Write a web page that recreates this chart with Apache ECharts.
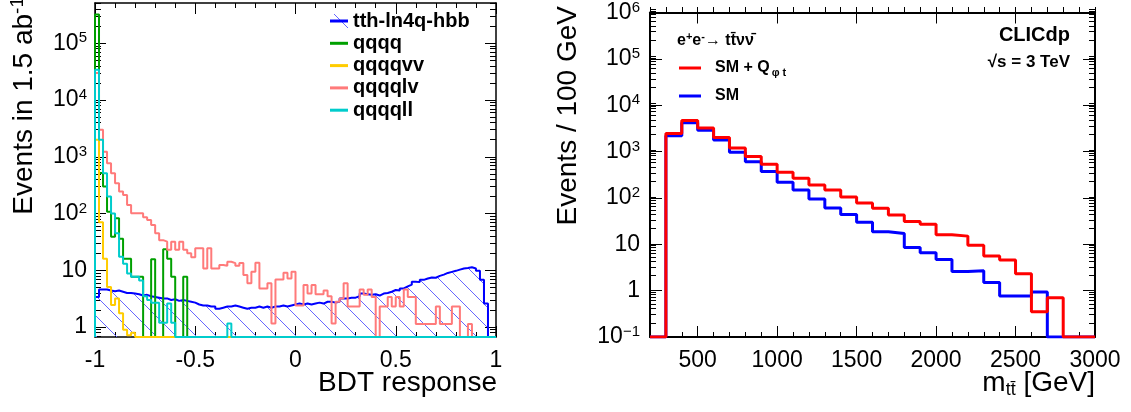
<!DOCTYPE html>
<html>
<head>
<meta charset="utf-8">
<title>BDT response / m_tt</title>
<style>
  html, body { margin: 0; padding: 0; background: #fff; }
  #main { width: 1131px; height: 412px; }
</style>
</head>
<body>
<div id="main"></div>
<script src="https://cdn.jsdelivr.net/npm/echarts@6/dist/echarts.min.js"></script>
<script>
// ---- left panel: BDT response, 100 bins of 0.02 from -1 to 1 ----
var bdtLow = -1, bdtBin = 0.02;
var tthLn4qHbb = [
  3.4, 4.6, 4.6, 4.4, 4.3, 4.4, 4.2, 4.0, 4.0, 3.9,
  3.8, 3.6, 3.7, 3.5, 3.4, 3.3, 3.2, 3.2, 3.0, 3.1,
  2.9, 3.0, 2.9, 2.8, 2.7, 2.5, 2.4, 2.4, 2.3, 2.3,
  2.1, 2.2, 2.3, 2.3, 2.4, 2.3, 2.2, 2.1, 2.2, 2.2,
  2.3, 2.2, 2.3, 2.2, 2.3, 2.3, 2.4, 2.3, 2.4, 2.5,
  2.6, 2.5, 2.6, 2.5, 2.6, 2.7, 2.6, 2.8, 2.8, 2.7,
  2.8, 3.2, 3.2, 3.3, 3.3, 3.5, 3.9, 3.8, 3.7, 3.8,
  3.6, 3.9, 4.0, 4.2, 4.5, 4.4, 4.8, 5.2, 5.6, 6.3,
  6.2, 6.8, 7.2, 7.5, 7.4, 8.0, 8.4, 9.0, 9.4, 9.8,
  10.3, 10.8, 11.0, 11.3, 10.8, 9.8, 6.8, 2.6, 0, 0
];
var qqqq = [
  320000, 515, 298, 108, 39, 83, 36, 16, 16, 7.7,
  7.7, 7.7, 0, 0, 15.6, 0, 0, 23.5, 16, 7.7,
  0, 0, 7.7, 0, 0, 0, 0, 0, 0, 0,
  0, 0, 0, 0, 0, 0, 0, 0, 0, 0,
  0, 0, 0, 0, 0, 0, 0, 0, 0, 0,
  0, 0, 0, 0, 0, 0, 0, 0, 0, 0,
  0, 0, 0, 0, 0, 0, 0, 0, 0, 0,
  0, 0, 0, 0, 0, 0, 0, 0, 0, 0,
  0, 0, 0, 0, 0, 0, 0, 0, 0, 0,
  0, 0, 0, 0, 0, 0, 0, 0, 0, 0
];
var qqqqvv = [
  2000, 70, 16, 5.1, 2.45, 3.2, 1.76, 0.9, 0.72, 0.8,
  0, 0, 0, 0, 0, 0, 0, 0, 0, 0,
  0, 0, 0, 0, 0, 0, 0, 0, 0, 0,
  0, 0, 0, 0, 0, 0, 0, 0, 0, 0,
  0, 0, 0, 0, 0, 0, 0, 0, 0, 0,
  0, 0, 0, 0, 0, 0, 0, 0, 0, 0,
  0, 0, 0, 0, 0, 0, 0, 0, 0, 0,
  0, 0, 0, 0, 0, 0, 0, 0, 0, 0,
  0, 0, 0, 0, 0, 0, 0, 0, 0, 0,
  0, 0, 0, 0, 0, 0, 0, 0, 0, 0
];
var qqqqlv = [
  30000, 3000, 1230, 770, 510, 340, 245, 213, 141, 101,
  101, 101, 86, 77, 63, 45, 34, 32, 23, 32,
  23, 32, 23, 20, 17, 24.5, 24.5, 10.8, 24.5, 10.8,
  10.8, 12.4, 12, 14.2, 13.4, 12.1, 13.4, 8.3, 5.9, 9.4,
  13.6, 4.8, 4.8, 5.9, 1.16, 6.9, 6.9, 9.1, 7.2, 9.4,
  2.4, 2.4, 5.5, 3.9, 5.5, 3.8, 3.8, 4.4, 3.5, 1.16,
  2.8, 3.2, 5.9, 2.3, 2.3, 2.3, 4.6, 3.7, 4.6, 3.4,
  0, 2.3, 2.3, 3.4, 2.3, 3.4, 2.3, 4.6, 3.4, 3.4,
  1.13, 1.13, 1.13, 1.13, 1.13, 2.3, 1.13, 1.13, 1.13, 2.3,
  2.3, 0, 0, 1.13, 0, 0, 0, 0, 0, 0
];
var qqqqll = [
  34000, 2000, 510, 200, 100, 45, 17.4, 13, 8.8, 7.7,
  7.7, 6.6, 3.5, 3.0, 2.7, 2.7, 1.2, 1.2, 2.6, 1.2,
  0, 0, 0, 0, 0, 0, 0, 0, 0, 0,
  0, 0, 0, 1.16, 0, 0, 0, 0, 0, 0,
  0, 0, 0, 0, 0, 0, 0, 0, 0, 0,
  0, 0, 0, 0, 0, 0, 0, 0, 0, 0,
  0, 0, 0, 0, 0, 0, 0, 0, 0, 0,
  0, 0, 0, 0, 0, 0, 0, 0, 0, 0,
  0, 0, 0, 0, 0, 0, 0, 0, 0, 0,
  0, 0, 0, 0, 0, 0, 0, 0, 0, 0
];

// ---- right panel: m_tt, 100 GeV bins from 200 to 3000 ----
var mttLow = 200, mttBin = 100;
var smPlusQ = [0, 2450, 4700, 3240, 2000, 1200, 780, 530, 360, 265,
               190, 148, 105, 78, 60, 43, 31, 27, 16, 15,
               9.5, 5.6, 4.6, 2.3, 0.35, 0.7, 0, 0];
var sm = [0, 2200, 4200, 2900, 1770, 970, 600, 370, 218, 148,
          95, 61, 44, 30, 18.6, 17, 8.5, 6.6, 4.7, 2.6,
          2.7, 1.5, 0.77, 0.77, 0.94, 0, 0, 0];

// ---- tick labels ----
var bdtTicks = [-1, -0.5, 0, 0.5, 1];
var bdtTickLabels = ['-1', '-0.5', '0', '0.5', '1'];
var leftYTicks = [1, 10, 100, 1000, 10000, 100000];
var leftYTickLabels = ['1', '10', '10{s|2}', '10{s|3}', '10{s|4}', '10{s|5}'];
var mttTicks = [500, 1000, 1500, 2000, 2500, 3000];
var mttTickLabels = ['500', '1000', '1500', '2000', '2500', '3000'];
var rightYTicks = [0.1, 1, 10, 100, 1000, 10000, 100000, 1000000];
var rightYTickLabels = ['10{s|\u22121}', '1', '10', '10{s|2}', '10{s|3}', '10{s|4}', '10{s|5}', '10{s|6}'];

var F = '"Liberation Sans", Arial, Helvetica, sans-serif';
var leftYMin = 0.67, leftYMax = 5.1e5;
var rightYMin = 0.1, rightYMax = 1e6;

// hatch pattern for the signal
var hatch = document.createElement('canvas');
hatch.width = 20; hatch.height = 20;
var hc = hatch.getContext('2d');
hc.strokeStyle = '#6666ff';
hc.lineWidth = 1;
hc.beginPath(); hc.moveTo(-2, -2); hc.lineTo(22, 22); hc.stroke();

// step outline of a histogram; empty bins sit on the frame bottom like ROOT does
function histPoints(low, width, values, floor) {
  var pts = [[low, floor]];
  for (var i = 0; i < values.length; i++) {
    pts.push([low + i * width, values[i] > 0 ? values[i] : floor]);
  }
  var last = values[values.length - 1];
  pts.push([low + values.length * width, last > 0 ? last : floor]);
  pts.push([low + values.length * width, floor]);
  return pts;
}

function linLabel(ticks, labels) {
  return function (v) {
    var b = 0;
    for (var i = 1; i < ticks.length; i++) if (Math.abs(v - ticks[i]) < Math.abs(v - ticks[b])) b = i;
    return labels[b];
  };
}
function logLabel(ticks, labels) {
  return function (v) {
    var b = 0, lv = Math.log10(v);
    for (var i = 1; i < ticks.length; i++) if (Math.abs(lv - Math.log10(ticks[i])) < Math.abs(lv - Math.log10(ticks[b]))) b = i;
    return labels[b];
  };
}
function logMinors(lo, hi) {
  var out = [];
  for (var e = -2; e <= 6; e++) for (var m = 2; m <= 9; m++) {
    var v = m * Math.pow(10, e);
    if (v > lo && v < hi) out.push(v);
  }
  return out;
}
function steps(lo, hi, d) {
  var out = [];
  for (var v = lo; v <= hi + d / 2; v += d) out.push(Math.round(v * 1000) / 1000);
  return out;
}

var richSup = {
  s: { fontSize: 15, fontFamily: F, color: '#000', padding: [0, 0, 10, 0] }
};

function xAx(grid, pos, min, max, ticks, len, lw, fmt) {
  return {
    gridIndex: grid, type: 'value', position: pos, min: min, max: max,
    axisLine: { show: lw > 0, onZero: false, lineStyle: { color: '#000', width: lw } },
    axisTick: { show: true, inside: true, length: len, customValues: ticks, lineStyle: { color: '#000', width: 1 } },
    axisLabel: fmt ? { show: true, customValues: ticks, formatter: fmt, fontFamily: F, fontSize: 23, color: '#000', margin: 12 } : { show: false },
    splitLine: { show: false }
  };
}
function yAx(grid, pos, min, max, ticks, len, lw, fmt, margin) {
  return {
    gridIndex: grid, type: 'log', logBase: 10, position: pos, min: min, max: max,
    axisLine: { show: lw > 0, onZero: false, lineStyle: { color: '#000', width: lw } },
    axisTick: { show: true, inside: true, length: len, customValues: ticks, lineStyle: { color: '#000', width: 1 } },
    axisLabel: fmt ? { show: true, customValues: ticks, formatter: fmt, fontFamily: F, fontSize: 23, color: '#000', margin: margin, rich: richSup } : { show: false },
    splitLine: { show: false }
  };
}

var leftGrid = { left: 95, top: 3, width: 401, height: 334 };
var rightGrid = { left: 650, top: 7, width: 445, height: 330 };

var leftMinorX = steps(-1, 1, 0.1), rightMinorX = steps(200, 3000, 100);
var leftMinorY = logMinors(leftYMin, leftYMax), rightMinorY = logMinors(rightYMin, rightYMax);

function histSeries(name, data, color, width, xi, yi, area) {
  var s = {
    name: name, type: 'line', step: 'end', xAxisIndex: xi, yAxisIndex: yi,
    data: data, symbol: 'none', showSymbol: false, animation: false, silent: true,
    itemStyle: { color: color },
    lineStyle: { color: color, width: width }
  };
  if (area) s.areaStyle = { origin: 'start', color: { image: hatch, repeat: 'repeat' }, opacity: 1 };
  return s;
}

var chart = echarts.init(document.getElementById('main'));
chart.setOption({
  animation: false,
  backgroundColor: '#fff',
  grid: [
    Object.assign({}, leftGrid), Object.assign({}, leftGrid),
    Object.assign({}, rightGrid), Object.assign({}, rightGrid)
  ],
  xAxis: [
    xAx(0, 'bottom', -1, 1, bdtTicks, 11, 1.5, linLabel(bdtTicks, bdtTickLabels)),
    xAx(0, 'top', -1, 1, bdtTicks, 11, 1.5, null),
    xAx(1, 'bottom', -1, 1, leftMinorX, 5, 0, null),
    xAx(1, 'top', -1, 1, leftMinorX, 5, 0, null),
    xAx(2, 'bottom', 200, 3000, mttTicks, 11, 2, linLabel(mttTicks, mttTickLabels)),
    xAx(2, 'top', 200, 3000, mttTicks, 11, 2, null),
    xAx(3, 'bottom', 200, 3000, rightMinorX, 5, 0, null),
    xAx(3, 'top', 200, 3000, rightMinorX, 5, 0, null)
  ],
  yAxis: [
    yAx(0, 'left', leftYMin, leftYMax, leftYTicks, 11, 1.5, logLabel(leftYTicks, leftYTickLabels), 8),
    yAx(0, 'right', leftYMin, leftYMax, leftYTicks, 11, 1.5, null),
    yAx(1, 'left', leftYMin, leftYMax, leftMinorY, 6, 0, null),
    yAx(1, 'right', leftYMin, leftYMax, leftMinorY, 6, 0, null),
    yAx(2, 'left', rightYMin, rightYMax, rightYTicks, 12, 2, logLabel(rightYTicks, rightYTickLabels), 10),
    yAx(2, 'right', rightYMin, rightYMax, rightYTicks, 12, 2, null),
    yAx(3, 'left', rightYMin, rightYMax, rightMinorY, 6, 0, null),
    yAx(3, 'right', rightYMin, rightYMax, rightMinorY, 6, 0, null)
  ],
  legend: [
    {
      left: 330, top: 11, orient: 'vertical', padding: 0, itemGap: 2.3,
      itemWidth: 18, itemHeight: 3, icon: 'rect', selectedMode: false,
      textStyle: { fontFamily: F, fontWeight: 'bold', fontSize: 20, color: '#000' },
      data: ['tth-ln4q-hbb', 'qqqq', 'qqqqvv', 'qqqqlv', 'qqqqll']
    },
    {
      left: 679, top: 60, orient: 'vertical', padding: 0, itemGap: 10,
      itemWidth: 22, itemHeight: 3, icon: 'rect', selectedMode: false,
      formatter: function (name) { return name === 'SM' ? '{n|SM}' : '{n|SM + Q}{b|\u03C6 t}'; },
      textStyle: {
        fontFamily: F, fontWeight: 'bold', fontSize: 16, color: '#000', padding: [0, 0, 0, 9],
        rich: {
          n: { fontFamily: F, fontWeight: 'bold', fontSize: 16, color: '#000' },
          b: { fontFamily: F, fontWeight: 'bold', fontSize: 11, color: '#000', padding: [9, 0, 0, 2] }
        }
      },
      data: ['SM + Q\u03C6t', 'SM']
    }
  ],
  graphic: [
    { type: 'rect', z: 1, shape: { x: 330, y: 14, width: 18, height: 15 },
      style: { fill: { image: hatch, repeat: 'repeat' } } },
    { type: 'text', x: 24, y: -3, rotation: Math.PI / 2,
      style: { text: '{t|Events in 1.5 ab}{s|-1}', align: 'right', verticalAlign: 'middle',
        rich: { t: { fontFamily: F, fontSize: 28, fill: '#000' }, s: { fontFamily: F, fontSize: 19, fill: '#000', padding: [0, 0, 12, 0] } } } },
    { type: 'text', x: 497, y: 383,
      style: { text: 'BDT response', align: 'right', verticalAlign: 'middle', fontFamily: F, fontSize: 28, fill: '#000' } },
    { type: 'text', x: 568, y: 6, rotation: Math.PI / 2,
      style: { text: 'Events / 100 GeV', align: 'right', verticalAlign: 'middle', fontFamily: F, fontSize: 28, fill: '#000' } },
    { type: 'text', x: 1095, y: 383,
      style: { text: '{m|m}{b|tt\u0304}{m| [GeV]}', align: 'right', verticalAlign: 'middle',
        rich: { m: { fontFamily: F, fontSize: 28, fill: '#000' }, b: { fontFamily: F, fontSize: 18, fill: '#000', padding: [14, 0, 0, 0] } } } },
    { type: 'text', x: 1070, y: 35,
      style: { text: 'CLICdp', align: 'right', verticalAlign: 'middle', fontFamily: F, fontWeight: 'bold', fontSize: 20, fill: '#000' } },
    { type: 'text', x: 1070, y: 62,
      style: { text: '\u221As = 3 TeV', align: 'right', verticalAlign: 'middle', fontFamily: F, fontWeight: 'bold', fontSize: 17, fill: '#000' } },
    { type: 'text', x: 677, y: 41,
      style: { text: '{e|e}{p|+}{e|e}{p|-}{e|\u2192 tt\u0304\u03BD\u03BD\u0304}', align: 'left', verticalAlign: 'middle',
        rich: { e: { fontFamily: F, fontWeight: 'bold', fontSize: 16, fill: '#000' }, p: { fontFamily: F, fontWeight: 'bold', fontSize: 11, fill: '#000', padding: [0, 0, 8, 0] } } } }
  ],
  series: [
    histSeries('tth-ln4q-hbb', histPoints(bdtLow, bdtBin, tthLn4qHbb, leftYMin), '#0000ff', 2, 0, 0, true),
    histSeries('qqqq', histPoints(bdtLow, bdtBin, qqqq, leftYMin), '#00a000', 2, 0, 0),
    histSeries('qqqqvv', histPoints(bdtLow, bdtBin, qqqqvv, leftYMin), '#ffcc00', 2, 0, 0),
    histSeries('qqqqlv', histPoints(bdtLow, bdtBin, qqqqlv, leftYMin), '#ff7a7a', 2, 0, 0),
    histSeries('qqqqll', histPoints(bdtLow, bdtBin, qqqqll, leftYMin), '#00cccc', 2, 0, 0),
    histSeries('SM', histPoints(mttLow, mttBin, sm, rightYMin), '#0000ff', 3, 4, 4),
    histSeries('SM + Q\u03C6t', histPoints(mttLow, mttBin, smPlusQ, rightYMin), '#ff0000', 3, 4, 4)
  ]
});
</script>
</body>
</html>
